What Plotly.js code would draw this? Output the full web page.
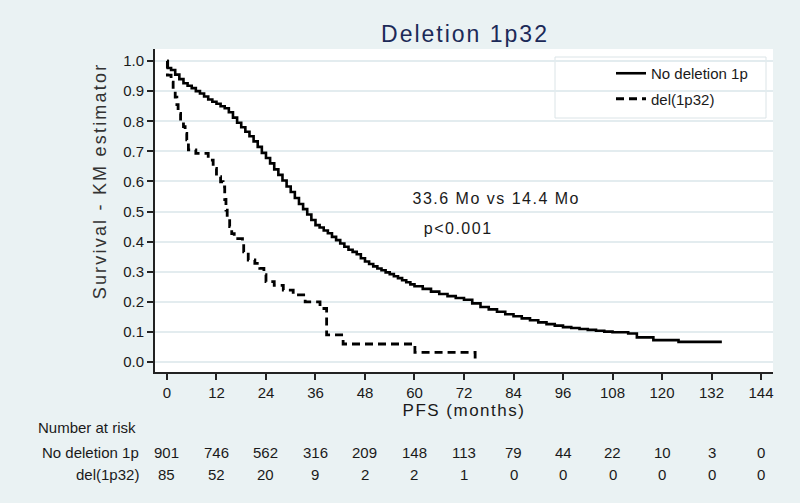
<!DOCTYPE html>
<html>
<head>
<meta charset="utf-8">
<script src="https://cdn.plot.ly/plotly-3.0.1.min.js"></script>
<style>
  body { margin:0; padding:0; background:#eaf2f3; }
  #chart { width:800px; height:503px; }
  .gtitle { letter-spacing: 2px; }
  .g-xtitle text { letter-spacing: 1.5px; }
  .annotation[data-index="0"] text { letter-spacing: 2.2px; }
  .annotation[data-index="1"] text, .annotation[data-index="2"] text { letter-spacing: 1.5px; }
</style>
</head>
<body>
<div id="chart"></div>
<script>
// ---- Data ----
const riskMonths = [0, 12, 24, 36, 48, 60, 72, 84, 96, 108, 120, 132, 144];
const riskNoDel = [901, 746, 562, 316, 209, 148, 113, 79, 44, 22, 10, 3, 0];
const riskDel = [85, 52, 20, 9, 2, 2, 1, 0, 0, 0, 0, 0, 0];

const noDelMonths = [0, 0.2, 1, 2, 3, 4, 5, 6, 7, 8, 9, 10, 11, 12, 13, 14, 15, 16, 17, 18, 19, 20,
  21, 22, 23, 24, 25, 26, 27, 28, 29, 30, 31, 32, 33, 34, 35, 36, 37, 38, 39, 40, 41, 42, 43, 44,
  45, 46, 47, 48, 49, 50, 51, 52, 53, 54, 55, 56, 57, 58, 59, 60, 62, 64, 66, 68, 70, 72, 74, 76,
  78, 80, 82, 84, 86, 88, 90, 92, 94, 96, 98, 100, 102, 104, 106, 108, 111.8, 113.9, 117.9, 124, 134.5];
const noDelSurv = [1.0, 0.977, 0.97, 0.955, 0.94, 0.926, 0.918, 0.91, 0.90, 0.892, 0.882, 0.872, 0.865,
  0.858, 0.85, 0.843, 0.83, 0.812, 0.795, 0.78, 0.765, 0.75, 0.733, 0.715, 0.695, 0.678, 0.66, 0.64,
  0.622, 0.603, 0.583, 0.565, 0.545, 0.525, 0.508, 0.49, 0.472, 0.455, 0.447, 0.437, 0.428, 0.416,
  0.405, 0.394, 0.383, 0.373, 0.366, 0.358, 0.345, 0.334, 0.326, 0.318, 0.311, 0.305, 0.298, 0.292,
  0.285, 0.279, 0.272, 0.265, 0.258, 0.252, 0.243, 0.234, 0.226, 0.219, 0.213, 0.207, 0.195, 0.183,
  0.175, 0.167, 0.159, 0.152, 0.145, 0.139, 0.132, 0.126, 0.121, 0.116, 0.113, 0.11, 0.107, 0.104,
  0.101, 0.099, 0.095, 0.082, 0.073, 0.067, 0.067];

const delMonths = [0, 0.1, 1.0, 1.5, 2.0, 2.4, 2.7, 3.3, 4.0, 4.4, 4.8, 5.2, 7.0, 10.0, 11.2, 12.0,
  13.0, 13.6, 14.0, 14.3, 14.6, 15.2, 15.7, 16.3, 18.3, 18.6, 19.7, 21.3, 22.5, 23.5, 24.0, 26.0,
  28.2, 30.6, 33.5, 37.1, 38.7, 42.7, 60.1, 74.7];
const delSurv = [1.0, 0.953, 0.93, 0.905, 0.88, 0.855, 0.826, 0.80, 0.782, 0.76, 0.738, 0.705, 0.693,
  0.671, 0.643, 0.616, 0.599, 0.582, 0.54, 0.505, 0.48, 0.45, 0.427, 0.41, 0.395, 0.366, 0.339, 0.328,
  0.311, 0.29, 0.267, 0.255, 0.239, 0.223, 0.20, 0.178, 0.09, 0.06, 0.032, 0.012];

const yTicks = [0, 0.1, 0.2, 0.3, 0.4, 0.5, 0.6, 0.7, 0.8, 0.9, 1.0];

// ---- Layout helpers ----
const FONT = 'Liberation Sans, Arial, sans-serif';
const TXT = '#1a1a1a';
const plotL = 155, plotR = 773, plotT = 49, plotB = 372;
const px2x = p => (p - plotL) / (plotR - plotL);
const px2y = p => 1 - (p - plotT) / (plotB - plotT);

const traces = [
  { x: noDelMonths, y: noDelSurv, type: 'scatter', mode: 'lines', name: 'No deletion 1p',
    line: { shape: 'hv', color: '#000000', width: 2.6 }, legendgroup: 'a', hoverinfo: 'skip' },
  { x: delMonths, y: delSurv, type: 'scatter', mode: 'lines', name: 'del(1p32)',
    line: { shape: 'hv', color: '#000000', width: 2.8, dash: '8px,5px' }, legendgroup: 'b', hoverinfo: 'skip' }
];

const annotations = [
  { text: 'Survival - KM estimator', xref: 'paper', yref: 'paper', x: px2x(100), y: px2y(181),
    textangle: -90, showarrow: false, xanchor: 'center', yanchor: 'middle',
    font: { family: FONT, size: 18, color: '#333333' } },
  { text: '33.6 Mo vs 14.4 Mo', xref: 'paper', yref: 'paper', x: px2x(424), y: px2y(198),
    showarrow: false, xanchor: 'left', yanchor: 'middle', font: { family: FONT, size: 16, color: TXT } },
  { text: 'p<0.001', xref: 'paper', yref: 'paper', x: px2x(427), y: px2y(228),
    showarrow: false, xanchor: 'left', yanchor: 'middle', font: { family: FONT, size: 16, color: TXT } },
  { text: 'Number at risk', xref: 'paper', yref: 'paper', x: px2x(36), y: px2y(427),
    showarrow: false, xanchor: 'left', yanchor: 'middle', font: { family: FONT, size: 15, color: TXT } },
  { text: 'No deletion 1p', xref: 'paper', yref: 'paper', x: px2x(141), y: px2y(452),
    showarrow: false, xanchor: 'right', yanchor: 'middle', font: { family: FONT, size: 15, color: TXT } },
  { text: 'del(1p32)', xref: 'paper', yref: 'paper', x: px2x(141), y: px2y(475),
    showarrow: false, xanchor: 'right', yanchor: 'middle', font: { family: FONT, size: 15, color: TXT } }
];
riskMonths.forEach((m, i) => {
  annotations.push({ text: String(riskNoDel[i]), xref: 'x', yref: 'paper', x: m, y: px2y(452),
    showarrow: false, xanchor: 'center', yanchor: 'middle', font: { family: FONT, size: 15, color: TXT } });
  annotations.push({ text: String(riskDel[i]), xref: 'x', yref: 'paper', x: m, y: px2y(475),
    showarrow: false, xanchor: 'center', yanchor: 'middle', font: { family: FONT, size: 15, color: TXT } });
});

const layout = {
  width: 800, height: 503,
  paper_bgcolor: '#eaf2f3', plot_bgcolor: '#ffffff',
  margin: { l: plotL, r: 800 - plotR, t: plotT, b: 503 - plotB },
  font: { family: FONT, color: TXT },
  title: { text: 'Deletion 1p32', x: 465 / 800, xanchor: 'center', y: 1 - 34 / 503, yanchor: 'middle',
    font: { family: FONT, size: 23, color: '#1c2a58' } },
  xaxis: {
    range: [-2.9, 146.9], tickvals: riskMonths, ticktext: riskMonths.map(String),
    ticks: 'outside', ticklen: 6, tickwidth: 2, tickcolor: '#222',
    showline: true, linecolor: '#222', linewidth: 2, showgrid: false, zeroline: false,
    tickfont: { family: FONT, size: 15, color: TXT },
    title: { text: 'PFS (months)', standoff: 0, font: { family: FONT, size: 17, color: TXT } },
    fixedrange: true
  },
  yaxis: {
    range: [-0.033, 1.04], tickvals: yTicks, tickformat: '.1f',
    ticks: 'outside', ticklen: 6, tickwidth: 2, tickcolor: '#222',
    showline: true, linecolor: '#222', linewidth: 2,
    showgrid: true, gridcolor: '#e3ecef', gridwidth: 2, zeroline: false,
    tickfont: { family: FONT, size: 15, color: TXT },
    fixedrange: true
  },
  showlegend: true,
  legend: {
    x: px2x(611), xanchor: 'left', y: px2y(57), yanchor: 'top',
    bgcolor: 'rgba(0,0,0,0)', borderwidth: 0, tracegroupgap: 3,
    font: { family: FONT, size: 15, color: TXT }
  },
  shapes: [
    { type: 'rect', xref: 'paper', yref: 'paper', x0: px2x(555), x1: px2x(766), y0: px2y(118), y1: px2y(57),
      fillcolor: '#ffffff', line: { color: '#dbe4e7', width: 1 }, layer: 'below' }
  ],
  annotations: annotations
};

Plotly.newPlot('chart', traces, layout, { staticPlot: true, displayModeBar: false });
</script>
</body>
</html>
